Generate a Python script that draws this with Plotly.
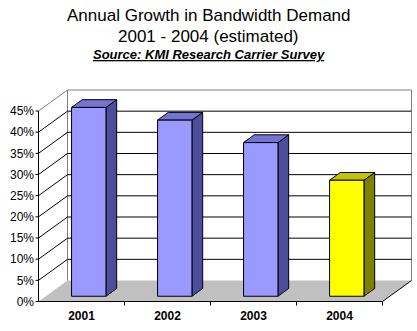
import plotly.graph_objects as go

# ---------------- data ----------------
years = ["2001", "2002", "2003", "2004"]
growth = [44.6, 41.6, 36.3, 27.4]          # percent
front_colors = ["#9999FF", "#9999FF", "#9999FF", "#FFFF00"]
side_colors = ["#4D4D9E", "#4D4D9E", "#4D4D9E", "#808000"]
top_colors = ["#7474D2", "#7474D2", "#7474D2", "#C4C400"]
y_ticks = [0, 5, 10, 15, 20, 25, 30, 35, 40, 45]
y_tick_labels = [f"{t}%" for t in y_ticks]

# ---------------- geometry (pixel scale of the oblique 3-D view) ----------------
W, H = 417, 331
ML, MR, MT, MB = 35, 3, 86, 24
PX_CAT = 86.0                 # pixels per category
PX_PCT = 190.5 / 45.0         # pixels per percent
DX = 29.0 / PX_CAT            # depth offset in category units
DY = 21.0 / PX_PCT            # depth offset in percent units
BAR_W = 0.40
Z0, Z1 = 0.25, 0.62           # bar front / back depth fraction
YMAX = y_ticks[-1]
n = len(years)

plot_w = W - ML - MR
plot_h = H - MT - MB
x0 = -0.5 - 3.5 / PX_CAT
x1 = x0 + plot_w / PX_CAT
y0 = -5.5 / PX_PCT
y1 = y0 + plot_h / PX_PCT

FONT = "Arial, Liberation Sans, sans-serif"

fig = go.Figure()


def poly(xs, ys, fill, line_color="black", lw=1):
    fig.add_trace(go.Scatter(
        x=list(xs) + [xs[0]], y=list(ys) + [ys[0]],
        mode="lines", fill="toself", fillcolor=fill,
        line=dict(color=line_color, width=lw),
        hoverinfo="skip", showlegend=False))


def segs(pairs, color, lw=1):
    xs, ys = [], []
    for (xa, ya), (xb, yb) in pairs:
        xs += [xa, xb, None]
        ys += [ya, yb, None]
    fig.add_trace(go.Scatter(x=xs, y=ys, mode="lines",
                             line=dict(color=color, width=lw),
                             hoverinfo="skip", showlegend=False))


left = -0.5
right = n - 0.5

# floor
poly([left, right, right + DX, left + DX], [0, 0, DY, DY], "#C0C0C0",
     line_color="rgba(0,0,0,0)", lw=0)

# back wall outline (gray) and left-wall top edge
segs([((left + DX, DY), (left + DX, YMAX + DY)),
      ((left + DX, YMAX + DY), (right + DX, YMAX + DY)),
      ((right + DX, YMAX + DY), (right + DX, DY)),
      ((left, YMAX), (left + DX, YMAX + DY))], "#808080")

# gridlines on back wall and left wall
inner = [t for t in y_ticks if 0 < t < YMAX]
segs([((left + DX, t + DY), (right + DX, t + DY)) for t in inner]
     + [((left, t), (left + DX, t + DY)) for t in inner], "black")

# front axis, floor edges, tick marks
tick_y = 3.0 / PX_CAT
tick_x = 4.0 / PX_PCT
segs([((left, 0), (left, YMAX)),
      ((left, 0), (right, 0)),
      ((right, 0), (right + DX, DY))]
     + [((left - tick_y, t), (left, t)) for t in y_ticks]
     + [((i + 0.5, 0), (i + 0.5, -tick_x)) for i in range(n)], "black")

# 3-D bars
for i, v in enumerate(growth):
    xl = i - BAR_W / 2
    xr = i + BAR_W / 2
    a0x, a0y = Z0 * DX, Z0 * DY
    a1x, a1y = Z1 * DX, Z1 * DY
    # side face
    poly([xr + a0x, xr + a1x, xr + a1x, xr + a0x],
         [a0y, a1y, v + a1y, v + a0y], side_colors[i])
    # top face
    poly([xl + a0x, xr + a0x, xr + a1x, xl + a1x],
         [v + a0y, v + a0y, v + a1y, v + a1y], top_colors[i])
    # front face
    poly([xl + a0x, xr + a0x, xr + a0x, xl + a0x],
         [a0y, a0y, v + a0y, v + a0y], front_colors[i])


def px_x(p):
    return (p - ML) / plot_w


def px_y(p):
    return 1 - (p - MT) / plot_h


center = px_x(W / 2)
fig.add_annotation(text="Annual Growth in Bandwidth Demand", x=center, y=px_y(15.5),
                   xref="paper", yref="paper", showarrow=False,
                   xanchor="center", yanchor="middle",
                   font=dict(family=FONT, size=17, color="black"))
fig.add_annotation(text="2001 - 2004 (estimated)", x=center, y=px_y(36.5),
                   xref="paper", yref="paper", showarrow=False,
                   xanchor="center", yanchor="middle",
                   font=dict(family=FONT, size=17, color="black"))
fig.add_annotation(text="Source: KMI Research Carrier Survey", x=center, y=px_y(54.5),
                   xref="paper", yref="paper", showarrow=False,
                   xanchor="center", yanchor="middle",
                   font=dict(family=FONT, size=13, color="black", weight="bold",
                             style="italic", lineposition="under"))

fig.update_layout(
    width=W, height=H,
    margin=dict(l=ML, r=MR, t=MT, b=MB, pad=0),
    paper_bgcolor="white", plot_bgcolor="white",
    showlegend=False,
    xaxis=dict(range=[x0, x1], tickvals=list(range(n)), ticktext=years,
               ticks="", showgrid=False, zeroline=False, showline=False,
               tickfont=dict(family=FONT, size=12, color="black", weight="bold"),
               fixedrange=True),
    yaxis=dict(range=[y0, y1], tickvals=y_ticks, ticktext=y_tick_labels,
               ticks="", showgrid=False, zeroline=False, showline=False,
               tickfont=dict(family=FONT, size=12, color="black"),
               fixedrange=True),
)

fig.write_html("out.html")
